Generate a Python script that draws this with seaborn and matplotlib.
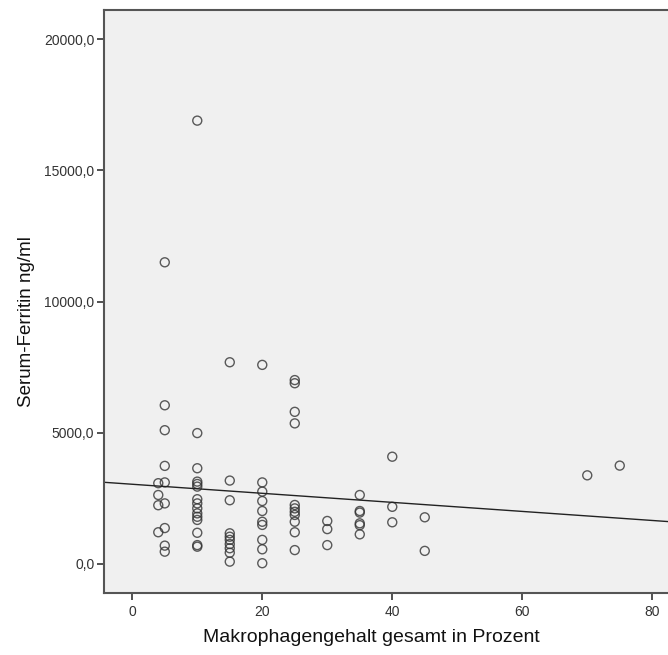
import matplotlib
matplotlib.use("Agg")
import matplotlib.pyplot as plt
import matplotlib.ticker as mticker
import seaborn as sns
import pandas as pd

# Data
makrophagen = [
    4, 4, 4, 4,
    5, 5, 5, 5, 5, 5, 5, 5, 5,
    10, 10, 10, 10, 10, 10, 10, 10, 10, 10, 10, 10, 10, 10, 10,
    15, 15, 15, 15, 15, 15, 15, 15, 15, 15,
    20, 20, 20, 20, 20, 20, 20, 20, 20, 20,
    25, 25, 25, 25, 25, 25, 25, 25, 25, 25, 25,
    30, 30, 30,
    35, 35, 35, 35, 35, 35,
    40, 40, 40,
    45, 45,
    70, 75,
]
ferritin = [
    3080, 2630, 2240, 1210,
    11500, 6050, 5100, 3740, 3110, 2310, 1370, 700, 470,
    16900, 4990, 3650, 3140, 3050, 2950, 2470, 2310, 2120, 1930, 1800, 1680, 1190, 720, 660,
    7690, 3180, 2430, 1170, 1040, 920, 760, 600, 430, 90,
    7590, 3110, 2760, 2400, 2020, 1610, 1490, 920, 560, 30,
    7010, 6890, 5800, 5360, 2250, 2120, 1990, 1870, 1610, 1210, 530,
    1640, 1330, 720,
    2630, 2020, 1960, 1550, 1480, 1130,
    4090, 2180, 1590,
    1780, 500,
    3380, 3750,
]
x_ticks = [0, 20, 40, 60, 80]
y_ticks = [0, 5000, 10000, 15000, 20000]
x_label = "Makrophagengehalt gesamt in Prozent"
y_label = "Serum-Ferritin ng/ml"

df = pd.DataFrame({"x": makrophagen, "y": ferritin})

sns.set_theme(style="white")
plt.rcParams["font.family"] = ["Liberation Sans", "DejaVu Sans"]

W, H = 668, 655
fig = plt.figure(figsize=(W / 100, H / 100), dpi=100)
ax_l, ax_r, ax_t, ax_b = 104, 675, 10, 592.7
ax = fig.add_axes([ax_l / W, (H - ax_b) / H, (ax_r - ax_l) / W, (ax_b - ax_t) / H])
ax.set_facecolor("#f0f0f0")
ax.set_xlim(-4.35, 83.5)
ax.set_ylim(-1094, 21117)

sns.regplot(
    data=df, x="x", y="y", ax=ax, ci=None, truncate=False,
    scatter_kws=dict(s=42, facecolors="none", edgecolors="#333333", linewidths=1.0),
    line_kws=dict(color="#222222", linewidth=1.0),
)

ax.set_xticks(x_ticks)
ax.set_yticks(y_ticks)
ax.yaxis.set_major_formatter(mticker.FuncFormatter(lambda v, p: f"{v:.1f}".replace(".", ",")))
ax.xaxis.set_major_formatter(mticker.FuncFormatter(lambda v, p: f"{int(v)}"))
ax.tick_params(axis="both", direction="out", length=5, width=1.2, color="#333333",
               labelsize=10, labelcolor="#333333", left=True, bottom=True, pad=2)
ax.tick_params(axis="x", pad=4)

for side in ["left", "bottom", "top"]:
    ax.spines[side].set_color("#555555")
    ax.spines[side].set_linewidth(1.5)
ax.spines["right"].set_visible(False)

ax.set_xlabel(x_label, fontsize=14, color="#111111")
ax.set_ylabel(y_label, fontsize=13.5, color="#111111")
ax.xaxis.set_label_coords((371 - ax_l) / (ax_r - ax_l), (ax_b - 629) / (ax_b - ax_t))
ax.yaxis.set_label_coords((35 - ax_l) / (ax_r - ax_l), (ax_b - 322) / (ax_b - ax_t))

fig.savefig("out.png", dpi=100)
